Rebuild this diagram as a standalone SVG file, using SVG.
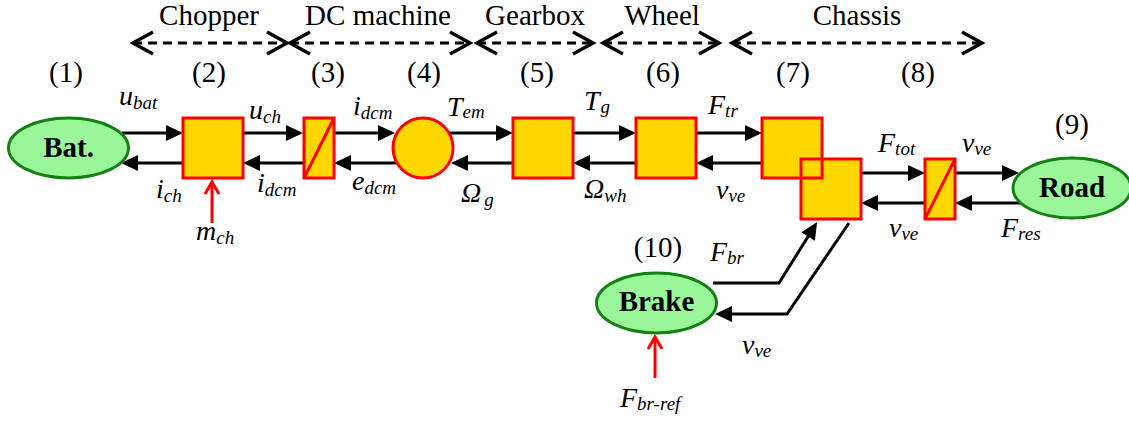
<svg xmlns="http://www.w3.org/2000/svg" width="1129" height="423" viewBox="0 0 1129 423">
<style>
.t{font-family:"Liberation Serif","Times New Roman",serif;font-size:29px;fill:#000}
.b{font-family:"Liberation Serif","Times New Roman",serif;font-size:29px;font-weight:bold;fill:#000;text-anchor:middle}
.v{font-family:"Liberation Serif","Times New Roman",serif;font-size:28px;font-style:italic;fill:#000}
.s{font-size:19px}
.c{text-anchor:middle}
.blk{fill:#ffd700;stroke:#ff0000;stroke-width:3}
.ell{fill:#99f799;stroke:#138013;stroke-width:3}
.w{fill:none;stroke:#000;stroke-width:3;marker-end:url(#ah)}
.r{fill:none;stroke:#ff0000;stroke-width:3;marker-end:url(#rh)}
.d{fill:none;stroke:#000;stroke-width:3;stroke-dasharray:9 6;marker-start:url(#ch);marker-end:url(#ch)}
</style>
<defs>
<marker id="ah" markerUnits="userSpaceOnUse" markerWidth="17" markerHeight="16" refX="13" refY="8" orient="auto" overflow="visible">
<path d="M0,0 L17,8 L0,16 z" fill="#000" stroke="none"/>
</marker>
<marker id="rh" markerUnits="userSpaceOnUse" markerWidth="16" markerHeight="16" refX="13" refY="8" orient="auto" overflow="visible">
<path d="M1,1 L13,8 L1,15" fill="none" stroke="#ff0000" stroke-width="3" stroke-dasharray="none"/>
</marker>
<marker id="ch" markerUnits="userSpaceOnUse" markerWidth="26" markerHeight="26" refX="22" refY="13" orient="auto-start-reverse" overflow="visible">
<path d="M2,2 L22,13 L2,24" fill="none" stroke="#000" stroke-width="3.5" stroke-dasharray="none"/>
</marker>
</defs>

<g id="sections">
<text class="t c" x="209" y="25">Chopper</text>
<path class="d" d="M133,43 L287,43"/>
<text class="t c" x="378" y="25">DC machine</text>
<path class="d" d="M290,43 L470,43"/>
<text class="t c" x="535" y="25">Gearbox</text>
<path class="d" d="M477,43 L593,43"/>
<text class="t c" x="662" y="25">Wheel</text>
<path class="d" d="M603,43 L719,43"/>
<text class="t c" x="857" y="25">Chassis</text>
<path class="d" d="M732,43 L982,43"/>
</g>

<g id="numbers">
<text class="t c" x="66" y="82">(1)</text>
<text class="t c" x="209" y="82">(2)</text>
<text class="t c" x="328" y="82">(3)</text>
<text class="t c" x="424" y="82">(4)</text>
<text class="t c" x="537" y="82">(5)</text>
<text class="t c" x="663" y="82">(6)</text>
<text class="t c" x="793" y="82">(7)</text>
<text class="t c" x="918" y="82">(8)</text>
<text class="t c" x="1072" y="134">(9)</text>
<text class="t c" x="658" y="257">(10)</text>
</g>

<g id="connectors">
<path class="w" d="M122,133 L179,133"/>
<path class="w" d="M183,163 L125,163"/>
<path class="w" d="M243,133 L299,133"/>
<path class="w" d="M303,163 L247,163"/>
<path class="w" d="M334,133 L391,133"/>
<path class="w" d="M396,163 L338,163"/>
<path class="w" d="M450,133 L509,133"/>
<path class="w" d="M513,163 L455,163"/>
<path class="w" d="M573,133 L632,133"/>
<path class="w" d="M636,163 L577,163"/>
<path class="w" d="M696,133 L758,133"/>
<path class="w" d="M762,163 L700,163"/>
<path class="w" d="M861,173 L921,173"/>
<path class="w" d="M925,203 L865,203"/>
<path class="w" d="M955,173 L1015,173"/>
<path class="w" d="M1021,203 L959,203"/>
<path class="w" d="M713,283 L779,283 L815,225.5"/>
<path class="w" d="M849,223 L787,314 L719,314"/>
<path class="r" d="M212,223 L212,182"/>
<path class="r" d="M655,378 L655,337"/>
</g>

<g id="node1"><ellipse class="ell" cx="68.5" cy="148" rx="60" ry="30"/><text class="b" x="68.5" y="157">Bat.</text></g>
<g id="node2"><rect class="blk" x="183" y="118" width="60" height="60"/></g>
<g id="node3"><rect class="blk" x="304" y="118" width="30" height="60"/><line x1="304" y1="178" x2="334" y2="118" stroke="#ff0000" stroke-width="3"/></g>
<g id="node4"><circle class="blk" cx="423" cy="148" r="30"/></g>
<g id="node5"><rect class="blk" x="513" y="118" width="60" height="60"/></g>
<g id="node6"><rect class="blk" x="636" y="118" width="60" height="60"/></g>
<g id="node7">
<rect x="762" y="118" width="60" height="60" fill="#ffd700"/>
<rect x="801" y="159" width="60" height="60" fill="#ffd700"/>
<rect x="762" y="118" width="60" height="60" fill="none" stroke="#ff0000" stroke-width="3"/>
<rect x="801" y="159" width="60" height="60" fill="none" stroke="#ff0000" stroke-width="3"/>
</g>
<g id="node8"><rect class="blk" x="925" y="159" width="30" height="60"/><line x1="925" y1="219" x2="955" y2="159" stroke="#ff0000" stroke-width="3"/></g>
<g id="node9"><ellipse class="ell" cx="1072" cy="188" rx="59" ry="30"/><text class="b" x="1072" y="197">Road</text></g>
<g id="node10"><ellipse class="ell" cx="656.5" cy="303" rx="60" ry="30"/><text class="b" x="656.5" y="311">Brake</text></g>

<g id="labels">
<text class="v" x="119" y="105">u<tspan class="s" dy="4">bat</tspan></text>
<text class="v" x="156" y="198">i<tspan class="s" dy="4">ch</tspan></text>
<text class="v" x="196" y="240">m<tspan class="s" dy="4">ch</tspan></text>
<text class="v" x="249" y="119">u<tspan class="s" dy="4">ch</tspan></text>
<text class="v" x="257" y="192">i<tspan class="s" dy="4">dcm</tspan></text>
<text class="v" x="353" y="115">i<tspan class="s" dy="4">dcm</tspan></text>
<text class="v" x="352" y="190">e<tspan class="s" dy="4">dcm</tspan></text>
<text class="v" x="447" y="116">T<tspan class="s" dy="2">em</tspan></text>
<text class="v" x="461" y="202">Ω<tspan class="s" dx="3" dy="4">g</tspan></text>
<text class="v" x="584" y="110">T<tspan class="s" dx="1" dy="3">g</tspan></text>
<text class="v" x="584" y="198">Ω<tspan class="s" dy="4">wh</tspan></text>
<text class="v" x="708" y="114">F<tspan class="s" dy="3">tr</tspan></text>
<text class="v" x="716" y="199">v<tspan class="s" dy="3">ve</tspan></text>
<text class="v" x="878" y="152">F<tspan class="s" dy="3">tot</tspan></text>
<text class="v" x="962" y="152">v<tspan class="s" dy="3">ve</tspan></text>
<text class="v" x="889" y="237">v<tspan class="s" dy="3">ve</tspan></text>
<text class="v" x="1001" y="237">F<tspan class="s" dy="3">res</tspan></text>
<text class="v" x="710" y="261">F<tspan class="s" dy="3">br</tspan></text>
<text class="v" x="742" y="354">v<tspan class="s" dy="3">ve</tspan></text>
<text class="v" x="620" y="407">F<tspan class="s" dy="3">br-ref</tspan></text>
</g>
</svg>
